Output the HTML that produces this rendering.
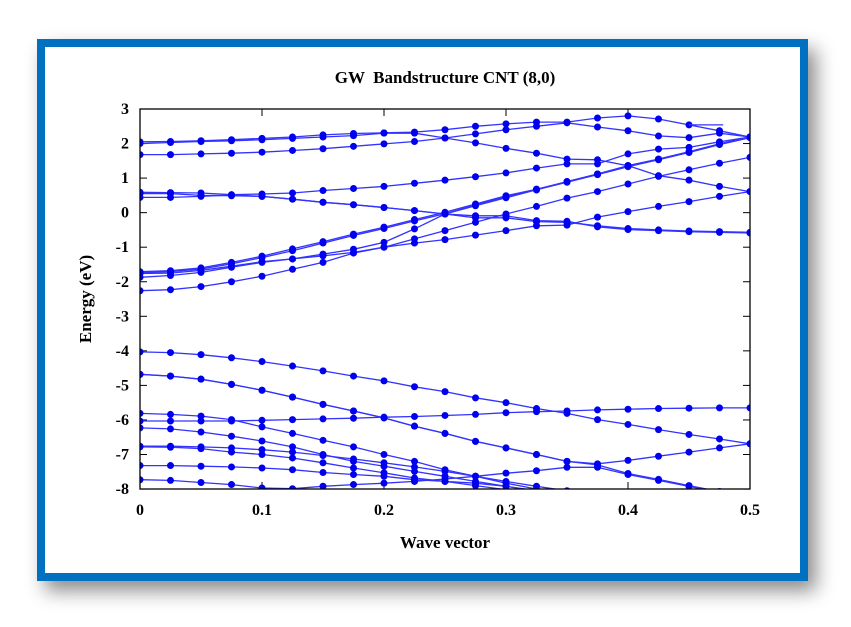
<!DOCTYPE html>
<html><head><meta charset="utf-8"><style>
html,body{margin:0;padding:0;background:#fff;width:851px;height:627px;overflow:hidden}
#frame{position:absolute;left:37px;top:39px;width:755px;height:526px;border:8px solid #0070c0;background:#fff;box-shadow:8px 10px 18px rgba(0,0,0,0.45)}
svg{position:absolute;left:0;top:0}
text{font-family:"Liberation Serif",serif;font-weight:bold;fill:#000}
</style></head><body>
<div id="frame"></div>
<svg id="s" width="851" height="627" xmlns="http://www.w3.org/2000/svg">
<defs><clipPath id="c"><rect x="140" y="109" width="610" height="380"/></clipPath></defs>
<text x="445" y="83" font-size="17" text-anchor="middle" xml:space="preserve">GW  Bandstructure CNT (8,0)</text>
<text x="445" y="548" font-size="17" text-anchor="middle">Wave vector</text>
<text transform="translate(91,299) rotate(-90)" font-size="17" text-anchor="middle">Energy (eV)</text>
<g id="ticks" font-size="16"></g>
<g id="bands" clip-path="url(#c)"></g>
<rect x="140" y="109" width="610" height="380" fill="none" stroke="#000" stroke-width="1.3"/>
</svg>
<script>
var X=function(k){return 140+k*1220},Y=function(e){return 109+(3-e)*34.55};
var NS="http://www.w3.org/2000/svg",t=document.getElementById('ticks'),b=document.getElementById('bands');
function el(n,a,p){var e=document.createElementNS(NS,n);for(var i in a)e.setAttribute(i,a[i]);p.appendChild(e);return e}
for(var e=3;e>=-8;e--){var y=Y(e);el('line',{x1:140,y1:y,x2:147,y2:y,stroke:'#000'},t);el('line',{x1:743,y1:y,x2:750,y2:y,stroke:'#000'},t);
var tx=el('text',{x:129,y:y+5,'text-anchor':'end'},t);tx.textContent=e;}
for(var i=0;i<=5;i++){var x=X(i/10);el('line',{x1:x,y1:489,x2:x,y2:482,stroke:'#000'},t);el('line',{x1:x,y1:109,x2:x,y2:116,stroke:'#000'},t);
var tx=el('text',{x:x,y:515,'text-anchor':'middle'},t);tx.textContent=i==0?'0':(i/10).toString();}
var B=[
[2.05,2.06,2.08,2.11,2.15,2.19,2.25,2.29,2.31,2.33,2.4,2.5,2.57,2.62,2.62,2.74,2.8,2.71,2.54,2.37,2.19],
[2.0,2.03,2.06,2.08,2.11,2.15,2.19,2.23,2.3,2.3,2.16,2.28,2.4,2.5,2.6,2.48,2.37,2.22,2.17,2.3,2.19],
[1.68,1.68,1.7,1.72,1.75,1.8,1.85,1.92,1.99,2.06,2.16,2.02,1.86,1.72,1.55,1.53,1.36,1.07,0.94,0.76,0.61],
[0.59,0.58,0.57,0.52,0.54,0.57,0.64,0.7,0.76,0.85,0.94,1.04,1.15,1.29,1.41,1.41,1.7,1.84,1.89,2.05,2.19],
[0.55,0.55,0.5,0.49,0.47,0.39,0.3,0.23,0.15,0.06,-0.04,-0.09,-0.09,-0.23,-0.25,-0.41,-0.49,-0.52,-0.55,-0.57,-0.59],
[0.44,0.44,0.47,0.51,0.47,0.39,0.3,0.23,0.15,0.06,-0.04,-0.15,-0.15,-0.26,-0.28,-0.38,-0.46,-0.5,-0.53,-0.55,-0.57],
[-1.71,-1.68,-1.6,-1.44,-1.26,-1.05,-0.84,-0.62,-0.42,-0.2,0.01,0.25,0.49,0.68,0.9,1.12,1.36,1.55,1.76,1.99,2.19],
[-1.74,-1.71,-1.63,-1.48,-1.3,-1.1,-0.88,-0.66,-0.46,-0.24,-0.03,0.22,0.46,0.66,0.88,1.1,1.33,1.53,1.74,1.97,2.17],
[-1.76,-1.75,-1.67,-1.55,-1.42,-1.34,-1.2,-1.06,-0.86,-0.47,-0.04,0.2,0.43,0.66,0.9,1.12,1.36,1.55,1.76,1.99,2.19],
[-1.87,-1.82,-1.73,-1.58,-1.44,-1.34,-1.25,-1.15,-1.0,-0.76,-0.52,-0.28,-0.04,0.18,0.42,0.61,0.83,1.05,1.24,1.43,1.6],
[-2.26,-2.23,-2.14,-2.0,-1.84,-1.64,-1.44,-1.17,-1.0,-0.88,-0.78,-0.65,-0.52,-0.38,-0.36,-0.13,0.03,0.18,0.32,0.47,0.61],
[-4.03,-4.05,-4.11,-4.2,-4.31,-4.44,-4.58,-4.73,-4.87,-5.04,-5.18,-5.36,-5.5,-5.67,-5.81,-5.99,-6.13,-6.28,-6.42,-6.55,-6.69],
[-6.03,-6.03,-6.03,-6.03,-6.01,-5.99,-5.97,-5.95,-5.92,-5.9,-5.87,-5.84,-5.79,-5.76,-5.74,-5.71,-5.69,-5.67,-5.66,-5.65,-5.65],
[-4.68,-4.73,-4.82,-4.97,-5.14,-5.34,-5.55,-5.74,-5.94,-6.18,-6.39,-6.62,-6.81,-7.0,-7.2,-7.27,-7.17,-7.05,-6.93,-6.81,-6.69],
[-4.68,-4.73,-4.82,-4.97,-5.14,-5.34,-5.55,-5.74,-5.94,-6.18,-6.39,-6.62,-6.81,-7.0,-7.2,-7.3,-7.55,-7.72,-7.9,-8.07,-8.2],
[-7.73,-7.75,-7.81,-7.87,-7.97,-7.99,-7.92,-7.87,-7.83,-7.78,-7.71,-7.63,-7.54,-7.47,-7.37,-7.37,-7.58,-7.75,-7.92,-8.1,-8.3],
[-5.81,-5.84,-5.89,-5.99,-6.2,-6.39,-6.59,-6.78,-7.0,-7.2,-7.44,-7.63,-7.83,-8.0,-8.15],
[-6.23,-6.26,-6.35,-6.47,-6.61,-6.78,-7.0,-7.2,-7.34,-7.49,-7.63,-7.78,-7.92,-8.05],
[-6.76,-6.76,-6.78,-6.81,-6.86,-6.93,-7.03,-7.13,-7.24,-7.36,-7.49,-7.63,-7.78,-7.92,-8.05],
[-6.78,-6.79,-6.83,-6.93,-7.0,-7.1,-7.24,-7.39,-7.53,-7.68,-7.78,-7.9,-8.02],
[-7.32,-7.32,-7.34,-7.36,-7.39,-7.44,-7.52,-7.58,-7.63,-7.73,-7.78,-7.83,-7.92,-8.05]
];
B.forEach(function(a){var d='';a.forEach(function(e,i){d+=(i?'L':'M')+X(i*0.025).toFixed(1)+' '+Y(e).toFixed(1)});
el('path',{d:d,fill:'none',stroke:'#3333ff','stroke-width':1.3},b);
a.forEach(function(e,i){el('circle',{cx:X(i*0.025),cy:Y(e),r:3.5,fill:'#0000ee'},b)});});
el('line',{x1:X(0.45),y1:Y(2.54),x2:X(0.478),y2:Y(2.54),stroke:'#3333ff','stroke-width':1.3},b);
</script>
</body></html>
